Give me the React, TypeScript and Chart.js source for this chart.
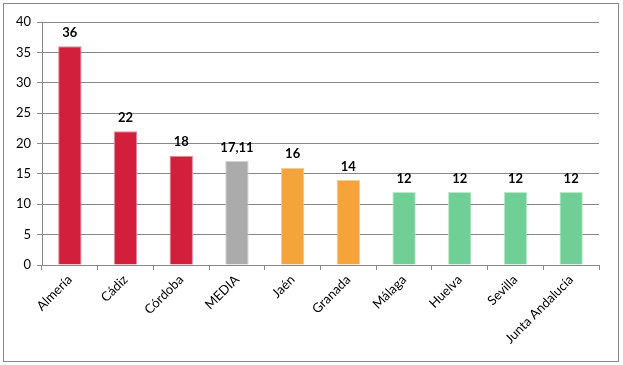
import React, { useEffect, useRef } from "react";
import { Chart, registerables } from "chart.js";

Chart.register(...registerables);

const categories = ["Almería", "Cádiz", "Córdoba", "MEDIA", "Jaén", "Granada", "Málaga", "Huelva", "Sevilla", "Junta Andalucía"];
const values = [36, 22, 18, 17.11, 16, 14, 12, 12, 12, 12];
const valueLabels = ["36", "22", "18", "17,11", "16", "14", "12", "12", "12", "12"];
const barColors = ["#D21F3C", "#D21F3C", "#D21F3C", "#ABABAB", "#F4A43A", "#F4A43A", "#6FCF97", "#6FCF97", "#6FCF97", "#6FCF97"];
const borderColors = ["#E98A99", "#E98A99", "#E98A99", "#D3D3D3", "#F8CD92", "#F8CD92", "#B8EACB", "#B8EACB", "#B8EACB", "#B8EACB"];
const yTicks = [0, 5, 10, 15, 20, 25, 30, 35, 40];

const FONT = "Lato, 'Liberation Sans', sans-serif";

const valueLabelPlugin = {
  id: "valueLabels",
  afterDatasetsDraw(chart: any) {
    const ctx = chart.ctx;
    const meta = chart.getDatasetMeta(0);
    ctx.save();
    ctx.font = `bold 13px ${FONT}`;
    ctx.fillStyle = "#000";
    ctx.textAlign = "center";
    ctx.textBaseline = "bottom";
    meta.data.forEach((bar: any, i: number) => {
      ctx.fillText(valueLabels[i], bar.x, bar.y - 7);
    });
    ctx.restore();
  },
};

export default function App() {
  const ref = useRef<HTMLCanvasElement>(null);
  useEffect(() => {
    const chart = new Chart(ref.current!, {
      type: "bar",
      data: {
        labels: categories,
        datasets: [
          {
            data: values,
            backgroundColor: barColors,
            borderColor: borderColors,
            borderWidth: 1,
            categoryPercentage: 1,
            barPercentage: 0.42,
          },
        ],
      },
      options: {
        animation: false,
        responsive: false,
        maintainAspectRatio: false,
        layout: { padding: { left: 12, right: 24, top: 22, bottom: 10 } },
        plugins: { legend: { display: false }, tooltip: { enabled: false } },
        scales: {
          x: {
            offset: true,
            afterFit: (s: any) => { s.height = 90; },
            grid: { offset: true, drawOnChartArea: false, drawTicks: true, tickLength: 5, color: "#888" },
            border: { color: "#888" },
            ticks: { color: "#000", font: { family: FONT, size: 13 }, minRotation: 45, maxRotation: 45, padding: 2 },
          },
          y: {
            min: 0,
            max: 40,
            afterFit: (s: any) => { s.width = 30; },
            afterBuildTicks: (s: any) => { s.ticks = yTicks.map((v) => ({ value: v })); },
            grid: { color: "#888", tickLength: 5 },
            border: { color: "#888" },
            ticks: { color: "#000", font: { family: FONT, size: 13 }, padding: 6 },
          },
        },
      },
      plugins: [valueLabelPlugin],
    });
    return () => chart.destroy();
  }, []);
  return (
    <div style={{ position: "fixed", left: 0, top: 0, width: 623, height: 365, background: "#fff" }}>
      <div style={{ position: "absolute", left: 3, top: 3, width: 614, height: 357, border: "1px solid #888" }} />
      <canvas ref={ref} width={623} height={365} style={{ position: "absolute", left: 0, top: 0 }} />
    </div>
  );
}
